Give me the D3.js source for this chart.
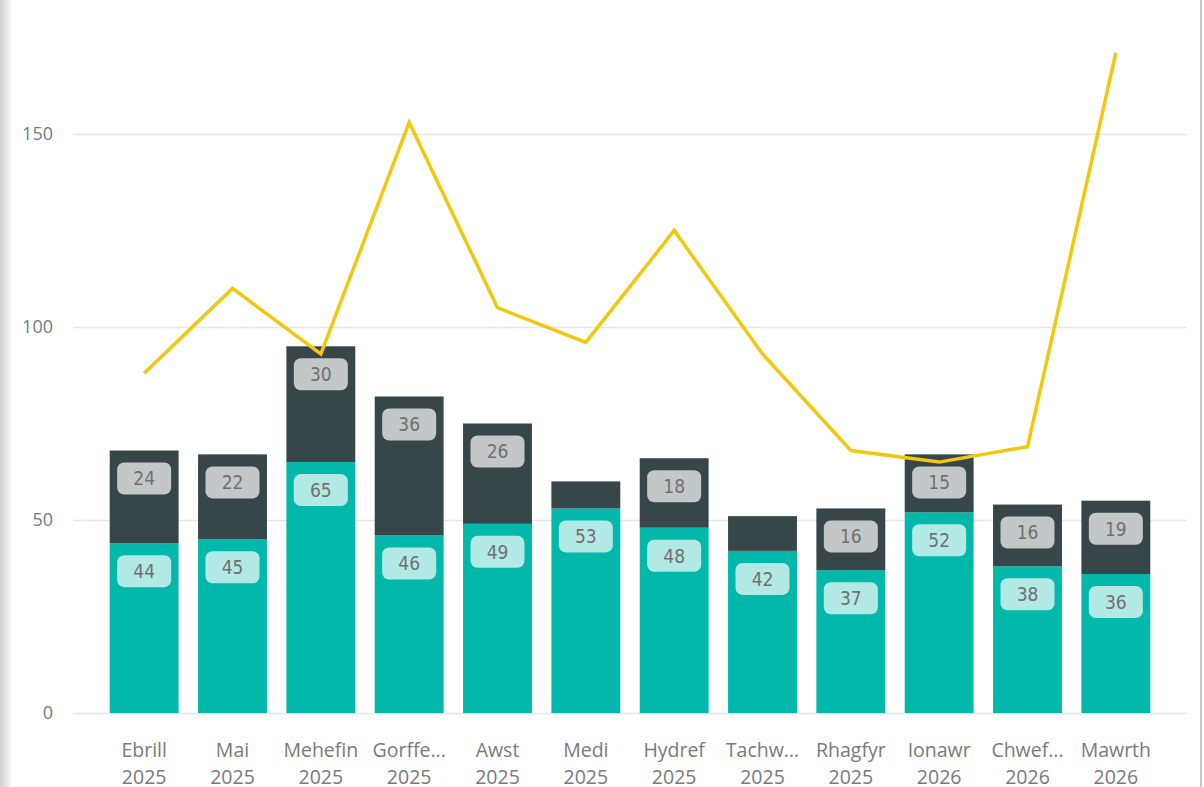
<!DOCTYPE html>
<html>
<head>
<meta charset="utf-8">
<script src="https://cdn.jsdelivr.net/npm/d3@7"></script>
<style>
  body { margin: 0; background: #fff; overflow: hidden; }
  svg { display: block; }
</style>
</head>
<body>
<div id="chart"></div>
<script>
// ---------- data ----------
var months = ["Ebrill", "Mai", "Mehefin", "Gorffe...", "Awst", "Medi", "Hydref", "Tachw...", "Rhagfyr", "Ionawr", "Chwef...", "Mawrth"];
var years = ["2025", "2025", "2025", "2025", "2025", "2025", "2025", "2025", "2025", "2026", "2026", "2026"];
var lowerValues = [44, 45, 65, 46, 49, 53, 48, 42, 37, 52, 38, 36];
var upperValues = [24, 22, 30, 36, 26, 7, 18, 9, 16, 15, 16, 19];
var lineValues = [88, 110, 93, 153, 105, 96, 125, 93, 68, 65, 69, 171];
var yTicks = [0, 50, 100, 150];

// ---------- canvas ----------
var width = 1204, height = 787;
var svg = d3.select("#chart").append("svg")
  .attr("width", width)
  .attr("height", height);

// left shadow + right border
var defs = svg.append("defs");
var grad = defs.append("linearGradient").attr("id", "shadow");
grad.append("stop").attr("offset", "0%").attr("stop-color", "#cfcfcf");
grad.append("stop").attr("offset", "100%").attr("stop-color", "#ffffff");
svg.append("rect").attr("x", 0).attr("y", 0).attr("width", 13).attr("height", height)
  .attr("fill", "url(#shadow)");
svg.append("rect").attr("x", 1200).attr("y", 0).attr("width", 2).attr("height", height)
  .attr("fill", "#c6c6c6");

// ---------- scales ----------
var keys = months.map((m, i) => i);
var x = d3.scaleBand()
  .domain(keys)
  .range([100, 1160])
  .paddingInner(0.22)
  .paddingOuter(0.11);

var y = d3.scaleLinear()
  .domain([0, 150])
  .range([713, 134]);

// ---------- gridlines + y axis ----------
var yAxis = d3.axisLeft(y).tickValues(yTicks).tickSize(-(1187 - 73)).tickPadding(20);
var gy = svg.append("g").attr("transform", "translate(73,0)").call(yAxis);
gy.select(".domain").remove();
gy.selectAll(".tick line").attr("stroke", "#e6e6e6").attr("stroke-width", 1.5);
gy.selectAll(".tick text")
  .attr("fill", "#7a7a7a")
  .style("font-family", "'Segoe UI', 'Open Sans', 'Noto Sans', sans-serif")
  .style("font-size", "18px");

// ---------- bars ----------
var bars = svg.append("g");
bars.selectAll(".lower").data(keys).enter().append("rect")
  .attr("x", d => x(d))
  .attr("width", x.bandwidth())
  .attr("y", d => y(lowerValues[d]))
  .attr("height", d => y(0) - y(lowerValues[d]))
  .attr("fill", "#01b8aa");

bars.selectAll(".upper").data(keys).enter().append("rect")
  .attr("x", d => x(d))
  .attr("width", x.bandwidth())
  .attr("y", d => y(lowerValues[d] + upperValues[d]))
  .attr("height", d => y(lowerValues[d]) - y(lowerValues[d] + upperValues[d]))
  .attr("fill", "#374649");

// ---------- line ----------
var line = d3.line()
  .x((d, i) => x(i) + x.bandwidth() / 2)
  .y(d => y(d));

svg.append("path")
  .datum(lineValues)
  .attr("d", line)
  .attr("fill", "none")
  .attr("stroke", "#f2c80f")
  .attr("stroke-width", 3.5)
  .attr("stroke-linejoin", "miter");

// ---------- data labels ----------
function addLabel(cx, topY, value, bg) {
  var g = svg.append("g").attr("transform", `translate(${cx}, ${topY + 28})`);
  g.append("rect")
    .attr("x", -27).attr("y", -16)
    .attr("width", 54).attr("height", 32)
    .attr("rx", 7)
    .attr("fill", bg);
  g.append("text")
    .attr("text-anchor", "middle")
    .attr("dy", "0.36em")
    .attr("fill", "#707070")
    .style("font-family", "'DejaVu Sans Condensed', 'Roboto', sans-serif")
    .style("font-size", "19px")
    .text(value);
}

keys.forEach(function(i) {
  var cx = x(i) + x.bandwidth() / 2;
  addLabel(cx, y(lowerValues[i]), lowerValues[i], "#b3e9e4");
  if (upperValues[i] >= 10) {
    addLabel(cx, y(lowerValues[i] + upperValues[i]), upperValues[i], "#c4c7c8");
  }
});

// ---------- x axis labels ----------
var xl = svg.append("g")
  .style("font-family", "'Segoe UI', 'Open Sans', 'Noto Sans', sans-serif")
  .style("font-size", "19.5px")
  .attr("fill", "#7a7a7a")
  .attr("text-anchor", "middle");

xl.selectAll(".m").data(keys).enter().append("text")
  .attr("x", d => x(d) + x.bandwidth() / 2)
  .attr("y", 757)
  .text(d => months[d]);

xl.selectAll(".yr").data(keys).enter().append("text")
  .attr("x", d => x(d) + x.bandwidth() / 2)
  .attr("y", 784)
  .text(d => years[d]);
</script>
</body>
</html>
